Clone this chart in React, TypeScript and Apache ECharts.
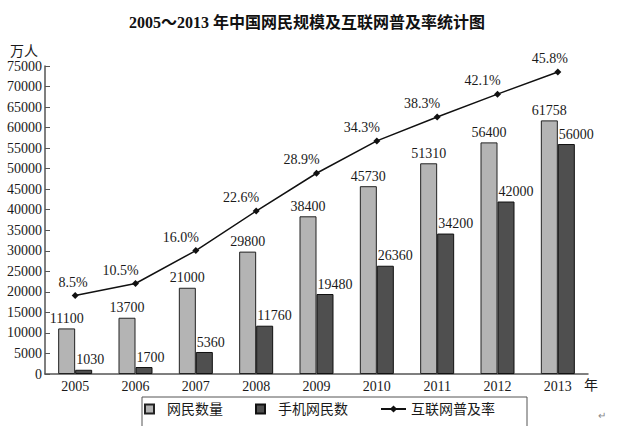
import React, { useEffect, useRef } from "react";
import * as echarts from "echarts";

const years = ["2005", "2006", "2007", "2008", "2009", "2010", "2011", "2012", "2013"];
const netizens = [11100, 13700, 21000, 29800, 38400, 45730, 51310, 56400, 61758];
const mobile = [1030, 1700, 5360, 11760, 19480, 26360, 34200, 42000, 56000];
const rate = [8.5, 10.5, 16.0, 22.6, 28.9, 34.3, 38.3, 42.1, 45.8];

const titleText = "2005～2013 年中国网民规模及互联网普及率统计图";
const seriesNames = ["网民数量", "手机网民数", "互联网普及率"];

const FONT = '"Liberation Serif", "Times New Roman", "Noto Sans CJK SC", serif';

export default function App() {
  const ref = useRef<HTMLDivElement>(null);
  useEffect(() => {
    if (!ref.current) return;
    const chart = echarts.init(ref.current, null, { renderer: "svg" });
    const last = rate.length - 1;
    const rateData = rate.map((v, i) => ({
      value: v,
      label: { offset: i === 0 ? [-2, 0] : i === last ? [-8, 0] : [-15, 0] },
    }));
    const square = "path://M0,0H10V10H0Z";
    chart.setOption({
      animation: false,
      textStyle: { fontFamily: FONT, color: "#1a1a1a" },
      title: {
        text: titleText,
        left: 124,
        top: 9,
        textStyle: { fontSize: 16, fontWeight: "bold", color: "#111", fontFamily: FONT },
      },
      grid: { left: 45, right: 36, top: 66, bottom: 52 },
      legend: {
        data: [
          { name: seriesNames[0], icon: square },
          { name: seriesNames[1], icon: square },
          { name: seriesNames[2] },
        ],
        left: 144,
        top: 402,
        padding: 0,
        itemWidth: 25,
        itemHeight: 9,
        itemGap: 32,
        selectedMode: false,
        textStyle: { fontSize: 14, color: "#1a1a1a", fontFamily: FONT },
      },
      xAxis: {
        type: "category",
        data: years,
        axisLine: { lineStyle: { color: "#555", width: 1.5 } },
        axisTick: { inside: true, length: 5, lineStyle: { color: "#555", width: 1 } },
        axisLabel: { fontSize: 14, color: "#1a1a1a", margin: 5, fontFamily: FONT },
      },
      yAxis: [
        {
          type: "value",
          min: 0,
          max: 75000,
          interval: 5000,
          axisLine: { show: true, lineStyle: { color: "#555", width: 1.5 } },
          axisTick: { show: true, inside: true, length: 5, lineStyle: { color: "#555", width: 1 } },
          splitLine: { show: false },
          axisLabel: {
            fontSize: 14,
            color: "#1a1a1a",
            margin: 3,
            fontFamily: FONT,
            formatter: (v: number) => String(v),
          },
        },
        { type: "value", min: -4.6, max: 46.8, show: false, splitLine: { show: false } },
      ],
      series: [
        {
          name: seriesNames[0],
          type: "bar",
          data: netizens,
          barWidth: 17,
          barGap: "0%",
          itemStyle: { color: "#b4b4b4", borderColor: "#222", borderWidth: 1 },
          label: { show: true, position: "top", distance: 3, fontSize: 14, color: "#1a1a1a", fontFamily: FONT },
        },
        {
          name: seriesNames[1],
          type: "bar",
          data: mobile,
          barWidth: 17,
          barGap: "0%",
          itemStyle: { color: "#4f4f4f", borderColor: "#111", borderWidth: 1 },
          label: {
            show: true,
            position: [1, -3],
            align: "left",
            verticalAlign: "bottom",
            fontSize: 14,
            color: "#1a1a1a",
            fontFamily: FONT,
          },
        },
        {
          name: seriesNames[2],
          type: "line",
          yAxisIndex: 1,
          data: rateData,
          symbol: "diamond",
          symbolSize: 7,
          lineStyle: { color: "#111", width: 1.5 },
          itemStyle: { color: "#111" },
          label: {
            show: true,
            position: "top",
            distance: 3,
            fontSize: 14,
            color: "#1a1a1a",
            fontFamily: FONT,
            formatter: (p: any) => Number(p.value).toFixed(1) + "%",
          },
        },
      ],
      graphic: [
        {
          type: "text",
          left: 10,
          top: 44,
          style: { text: "万人", fontSize: 14, fill: "#1a1a1a", fontFamily: FONT },
        },
        {
          type: "text",
          left: 584,
          top: 378,
          style: { text: "年", fontSize: 14, fill: "#1a1a1a", fontFamily: FONT },
        },
        {
          type: "polyline",
          shape: { points: [[142, 430], [142, 397], [527, 397], [527, 430]] },
          style: { stroke: "#555", lineWidth: 1, fill: "none" },
        },
        {
          type: "text",
          left: 598,
          top: 410,
          style: { text: "↵", fontSize: 10, fill: "#888", fontFamily: FONT },
        },
      ],
    });
    return () => chart.dispose();
  }, []);
  return (
    <div
      ref={ref}
      style={{ position: "absolute", left: 0, top: 0, width: 624, height: 426, background: "#fff" }}
    />
  );
}
